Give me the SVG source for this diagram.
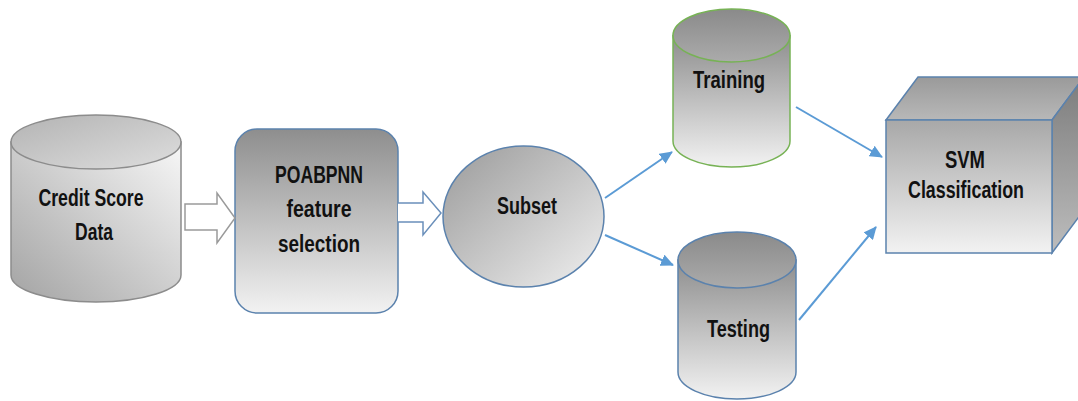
<svg xmlns="http://www.w3.org/2000/svg" width="1078" height="401" viewBox="0 0 1078 401">
<defs>
<linearGradient id="gCredBody" x1="0" y1="1" x2="1" y2="0"><stop offset="0" stop-color="#a3a3a3"/><stop offset="1" stop-color="#f7f7f7"/></linearGradient>
<linearGradient id="gCredTop" x1="0" y1="0" x2="1" y2="1"><stop offset="0" stop-color="#b3b3b3"/><stop offset="1" stop-color="#dedede"/></linearGradient>
<linearGradient id="gVert" x1="0" y1="0" x2="0" y2="1"><stop offset="0" stop-color="#8e8e8e"/><stop offset="1" stop-color="#f2f2f2"/></linearGradient>
<linearGradient id="gCap" x1="0" y1="0" x2="0" y2="1"><stop offset="0" stop-color="#8a8a8a"/><stop offset="1" stop-color="#ababab"/></linearGradient>
<linearGradient id="gEll" x1="0" y1="0" x2="1" y2="1"><stop offset="0" stop-color="#9a9a9a"/><stop offset="1" stop-color="#f0f0f0"/></linearGradient>
<linearGradient id="gFront" x1="0" y1="0" x2="0" y2="1"><stop offset="0" stop-color="#a8a8a8"/><stop offset="1" stop-color="#f2f2f2"/></linearGradient>
<linearGradient id="gTop" x1="0" y1="0" x2="0" y2="1"><stop offset="0" stop-color="#9a9a9a"/><stop offset="1" stop-color="#b8b8b8"/></linearGradient>
<linearGradient id="gSide" x1="0" y1="0" x2="0" y2="1"><stop offset="0" stop-color="#7c7c7c"/><stop offset="1" stop-color="#bdbdbd"/></linearGradient>
<marker id="ah" markerUnits="userSpaceOnUse" markerWidth="13" markerHeight="12" refX="12" refY="6" orient="auto"><path d="M0,0 L13,6 L0,12 Z" fill="#5b9bd5"/></marker>
</defs>
<style>
text{font-family:"Liberation Sans",Arial,sans-serif;font-weight:bold;font-size:23px;fill:#111;text-anchor:middle}
.blue{stroke:#5b82ad;stroke-width:1.5}
.conn{stroke:#5b9bd5;stroke-width:2;fill:none}
</style>
<g id="credit-score-data">
<path d="M11,142 L11,275 A85,27 0 0 0 181,275 L181,142 Z" fill="url(#gCredBody)" stroke="#8c8c8c" stroke-width="1.5"/>
<ellipse cx="96" cy="142" rx="85" ry="27" fill="url(#gCredTop)" stroke="#8c8c8c" stroke-width="1.5"/>
<text x="91" y="206" font-size="25" textLength="105" lengthAdjust="spacingAndGlyphs">Credit Score</text>
<text x="94" y="240" font-size="25" textLength="38" lengthAdjust="spacingAndGlyphs">Data</text>
</g>
<g id="poabpnn">
<rect x="235" y="129" width="163" height="184" rx="22" fill="url(#gVert)" class="blue"/>
<text x="319" y="183" textLength="88" lengthAdjust="spacingAndGlyphs">POABPNN</text>
<text x="319" y="217" textLength="65" lengthAdjust="spacingAndGlyphs">feature</text>
<text x="319" y="252" textLength="82" lengthAdjust="spacingAndGlyphs">selection</text>
</g>
<g id="subset">
<ellipse cx="523.5" cy="216.5" rx="80.5" ry="70.5" fill="url(#gEll)" class="blue"/>
<text x="527" y="214" font-size="22" textLength="60" lengthAdjust="spacingAndGlyphs">Subset</text>
</g>
<g id="training">
<path d="M673,35.5 L673,141 A58.5,26 0 0 0 790,141 L790,35.5 Z" fill="url(#gVert)" stroke="#77b255" stroke-width="1.5"/>
<ellipse cx="731.5" cy="35.5" rx="58.5" ry="26.5" fill="url(#gCap)" stroke="#77b255" stroke-width="1.5"/>
<text x="729" y="88" textLength="72" lengthAdjust="spacingAndGlyphs">Training</text>
</g>
<g id="testing">
<path d="M678,260 L678,372 A59,27 0 0 0 796,372 L796,260 Z" fill="url(#gVert)" class="blue"/>
<ellipse cx="737" cy="260" rx="59" ry="28" fill="url(#gCap)" class="blue"/>
<text x="738.5" y="337" textLength="63" lengthAdjust="spacingAndGlyphs">Testing</text>
</g>
<g id="svm-classification">
<polygon points="886,120 918,77 1084,77 1052,120" fill="url(#gTop)" class="blue"/>
<polygon points="1052,120 1084,77 1084,210 1052,253" fill="url(#gSide)" class="blue"/>
<rect x="886" y="120" width="166" height="133" fill="url(#gFront)" class="blue"/>
<text x="965" y="168" textLength="40" lengthAdjust="spacingAndGlyphs">SVM</text>
<text x="966" y="198" textLength="116" lengthAdjust="spacingAndGlyphs">Classification</text>
</g>
<g id="connectors">
<path d="M185,204 L217,204 L217,193 L235,218 L217,243 L217,230 L185,230 Z" fill="#fff" stroke="#9a9a9a" stroke-width="1.5"/>
<path d="M398,203 L423,203 L423,192 L441,213 L423,235 L423,222 L398,222" fill="#fff" stroke="#6a8fba" stroke-width="1.5"/>
<line x1="605" y1="198" x2="672" y2="152" class="conn" marker-end="url(#ah)"/>
<line x1="605" y1="235" x2="673" y2="265" class="conn" marker-end="url(#ah)"/>
<line x1="796" y1="107" x2="882" y2="157" class="conn" marker-end="url(#ah)"/>
<line x1="799" y1="320" x2="876" y2="227" class="conn" marker-end="url(#ah)"/>
</g>
</svg>
